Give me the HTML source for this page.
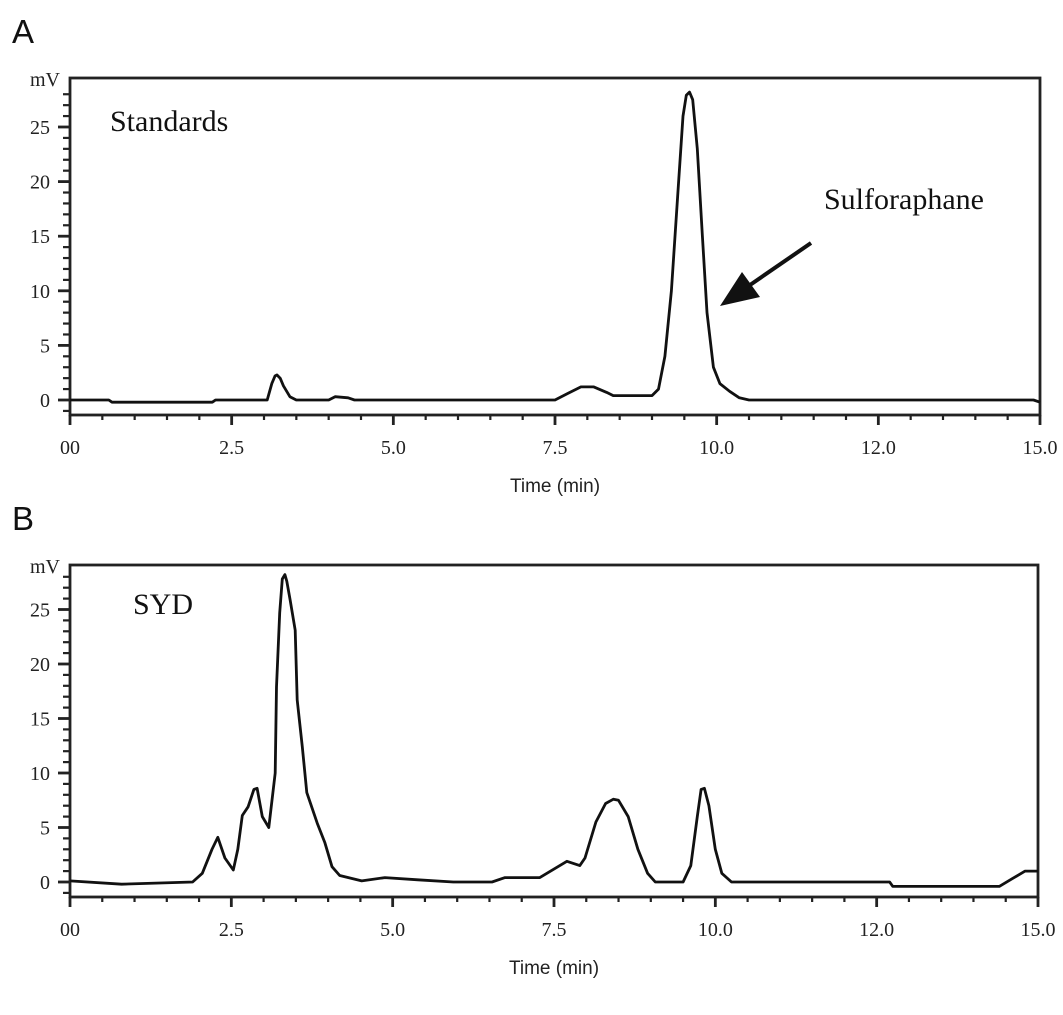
<!DOCTYPE html>
<html><head><meta charset="utf-8"><style>
html,body{margin:0;padding:0;background:#fff;}
svg{display:block}
.tl{font-family:"Liberation Serif",serif;font-size:20px;fill:#222}
.ts{font-family:"Liberation Sans",sans-serif;font-size:19px;fill:#222}
</style></head><body>
<svg id="c" width="1063" height="1015" viewBox="0 0 1063 1015"></svg>
<script>
const xTickVals=[0,2.5,5,7.5,10,12.5,15];
const xTickLabels=["00","2.5","5.0","7.5","10.0","12.0","15.0"];
const yTickVals=[0,5,10,15,20,25];
const yTickLabels=["0","5","10","15","20","25"];
const timesA=[0,0.6,0.65,2.2,2.25,3.05,3.12,3.17,3.2,3.25,3.3,3.4,3.5,4.0,4.1,4.3,4.4,7.5,7.7,7.9,8.1,8.3,8.4,9.0,9.1,9.2,9.3,9.4,9.48,9.53,9.58,9.63,9.7,9.78,9.85,9.95,10.05,10.2,10.35,10.5,14.9,15];
const valuesA=[0,0,-0.2,-0.2,0,0,1.5,2.2,2.3,2.0,1.3,0.3,0,0,0.3,0.2,0,0,0.6,1.2,1.2,0.7,0.4,0.4,1,4,10,19,26,27.9,28.2,27.5,23,15,8,3,1.5,0.8,0.2,0,0,-0.2];
const timesB=[0,0.8,1.9,2.05,2.2,2.29,2.4,2.53,2.6,2.67,2.76,2.85,2.9,2.98,3.08,3.18,3.2,3.25,3.29,3.33,3.36,3.41,3.49,3.52,3.6,3.67,3.83,3.95,4.06,4.18,4.52,4.88,5.39,5.94,6.54,6.74,7.28,7.7,7.9,7.98,8.15,8.3,8.42,8.5,8.65,8.8,8.95,9.07,9.5,9.62,9.72,9.78,9.83,9.9,10.0,10.1,10.25,12.7,12.75,14.4,14.6,14.8,15];
const valuesB=[0.1,-0.2,0,0.8,3,4.1,2.2,1.1,3,6.1,6.9,8.5,8.6,6,5.0,10,17.9,24.7,27.8,28.2,27.6,25.9,23.1,16.7,12.4,8.2,5.4,3.6,1.4,0.6,0.1,0.4,0.2,0,0,0.4,0.4,1.9,1.5,2.2,5.5,7.2,7.6,7.5,6,3,0.8,0,0,1.5,6,8.5,8.6,7,3,0.8,0,0,-0.4,-0.4,0.3,1,1];

const svg=document.getElementById('c');
const NS='http://www.w3.org/2000/svg';
function mk(tag,attrs,parent){const e=document.createElementNS(NS,tag);for(const k in attrs)e.setAttribute(k,attrs[k]);(parent||svg).appendChild(e);return e;}

function panel(cfg){
  const g=mk('g',{});
  
  
  const xs=t=>cfg.x0+(t/15)*(cfg.x1-cfg.x0);
  const ys=v=>cfg.y0-v*cfg.k;
  const fr=mk('rect',{x:cfg.x0,y:cfg.top,width:cfg.x1-cfg.x0,height:cfg.bot-cfg.top,fill:'none',stroke:'#222','stroke-width':2.8},g);
  
  
  for(let v=-1;v<=28;v++){
    const y=ys(v); if(y<cfg.top+3||y>cfg.bot-2)continue;
    const major=v%5===0;
    const t=mk('line',{x1:major?cfg.x0-12:cfg.x0-7,x2:cfg.x0,y1:y,y2:y,stroke:'#222','stroke-width':major?2.8:2.2},g);
    
    
  }
  yTickVals.forEach((v,i)=>{
    const t=mk('text',{x:cfg.x0-20,y:ys(v)+7,'text-anchor':'end',class:'tl'},g);
    t.textContent=yTickLabels[i];
    
    
  });
  const mv=mk('text',{x:cfg.x0-10,y:cfg.top+8,'text-anchor':'end',class:'tl'},g);
  mv.textContent='mV';
  
  
  for(let i=0;i<=30;i++){
    const tv=i*0.5;
    const big=(i%5===0);
    const t=mk('line',{x1:xs(tv),x2:xs(tv),y1:cfg.bot,y2:cfg.bot+(big?10:5),stroke:'#222','stroke-width':big?2.8:2.2},g);
    
    
  }
  xTickVals.forEach((v,i)=>{
    const t=mk('text',{x:xs(v),y:cfg.bot+39,'text-anchor':'middle',class:'tl'},g);
    t.textContent=xTickLabels[i];
    
    
  });
  const xt=mk('text',{x:(cfg.x0+cfg.x1)/2,y:cfg.bot+77,'text-anchor':'middle',class:'ts'},g);
  xt.textContent='Time (min)';
  
  
  let d='';
  cfg.times.forEach((t,i)=>{d+=(i?'L':'M')+xs(t).toFixed(1)+' '+ys(cfg.vals[i]).toFixed(1);});
  const p=mk('path',{d:d,fill:'none',stroke:'#111','stroke-width':2.8,'stroke-linejoin':'round'},g);
  
  
  const pl=mk('text',{x:12,y:cfg.top-35,style:'font-family:"Liberation Sans",sans-serif;font-size:33px;fill:#111'},g);
  pl.textContent=cfg.label;
  
  
  return {g,xs,ys};
}

const A=panel({name:'panel-a',label:'A',x0:70,x1:1040,top:78,bot:415,y0:400,k:10.92,times:timesA,vals:valuesA});
const sa=mk('text',{x:110,y:131,style:'font-family:"Liberation Serif",serif;font-size:30px;fill:#111'},A.g);
sa.textContent='Standards';


const sf=mk('text',{x:824,y:209,style:'font-family:"Liberation Serif",serif;font-size:30px;fill:#111'},A.g);
sf.textContent='Sulforaphane';


const ar=mk('line',{x1:811,y1:243,x2:750,y2:285,stroke:'#111','stroke-width':4},A.g);


const ah=mk('polygon',{points:'720,306 742,272 760,297',fill:'#111'},A.g);



const B=panel({name:'panel-b',label:'B',x0:70,x1:1038,top:565,bot:897,y0:882,k:10.9,times:timesB,vals:valuesB});
const sb=mk('text',{x:133,y:614,style:'font-family:"Liberation Serif",serif;font-size:30px;fill:#111'},B.g);
sb.textContent='SYD';


</script>
</body></html>
